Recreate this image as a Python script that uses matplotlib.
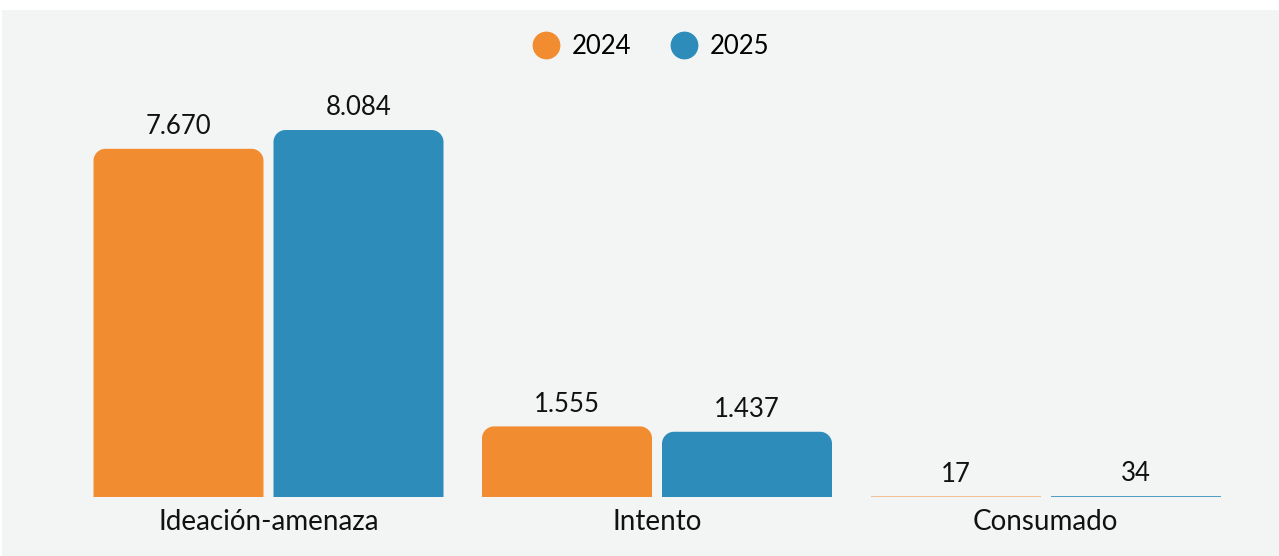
import matplotlib
matplotlib.use("Agg")
import matplotlib.pyplot as plt
from matplotlib.patches import Rectangle, PathPatch
from matplotlib.path import Path
from matplotlib.lines import Line2D
import numpy as np

# data
categories = ["Ideación-amenaza", "Intento", "Consumado"]
years = ["2024", "2025"]
values_2024 = [7670, 1555, 17]
values_2025 = [8084, 1437, 34]
value_labels_2024 = ["7.670", "1.555", "17"]
value_labels_2025 = ["8.084", "1.437", "34"]

ORANGE = "#F28C30"
BLUE = "#2E8CBA"
BG = "#F3F5F5"
FONT = ["Lato", "DejaVu Sans"]

W, H = 1279, 556
fig = plt.figure(figsize=(W / 100, H / 100), dpi=100)
fig.patch.set_facecolor("white")
fig.patches.append(Rectangle((2 / W, 0), 1 - 2 / W, 1 - 10 / H, transform=fig.transFigure,
                             facecolor=BG, edgecolor="none", zorder=-10))

ax = fig.add_axes([74.25 / W, 59 / H, 1165.5 / W, 407 / H])
ax.set_facecolor("none")
ax.set_xlim(-0.5, 2.5)
ax.set_ylim(0, 8965)
for s in ax.spines.values():
    s.set_visible(False)
ax.set_yticks([])
ax.tick_params(axis="x", length=0, pad=9)
x = np.arange(len(categories))
ax.set_xticks(x)
ax.set_xticklabels(categories, fontsize=20, family=FONT, color="#111111")

off = 90 / 388.5
bw = 170 / 388.5
b1 = ax.bar(x - off, values_2024, bw, color=ORANGE)
b2 = ax.bar(x + off, values_2025, bw, color=BLUE)

fig.canvas.draw()


def round_top(bar, color, r=12):
    # replace bar by a path with rounded top corners (pixel space)
    bb = bar.get_window_extent()
    x0, y0, x1, y1 = bb.x0, bb.y0, bb.x1, bb.y1
    r = min(r, (y1 - y0), (x1 - x0) / 2)
    k = 0.5523
    verts = [(x0, y0), (x0, y1 - r),
             (x0, y1 - r + k * r), (x0 + r - k * r, y1), (x0 + r, y1),
             (x1 - r, y1),
             (x1 - r + k * r, y1), (x1, y1 - r + k * r), (x1, y1 - r),
             (x1, y0), (x0, y0)]
    codes = [Path.MOVETO, Path.LINETO,
             Path.CURVE4, Path.CURVE4, Path.CURVE4,
             Path.LINETO,
             Path.CURVE4, Path.CURVE4, Path.CURVE4,
             Path.LINETO, Path.CLOSEPOLY]
    p = PathPatch(Path(verts, codes), facecolor=color, edgecolor="none", transform=None)
    fig.patches.append(p)
    bar.set_visible(False)


for bars, color, labels in [(b1, ORANGE, value_labels_2024), (b2, BLUE, value_labels_2025)]:
    for bar, lab in zip(bars, labels):
        if bar.get_height() > 300:
            round_top(bar, color)
        else:
            bar.set_visible(False)
            ax.plot([bar.get_x(), bar.get_x() + bar.get_width()], [0, 0], color=color,
                    lw=1.2, alpha=0.6 if color == ORANGE else 1, solid_capstyle="butt")
        ax.annotate(lab, (bar.get_x() + bar.get_width() / 2, bar.get_height()),
                    xytext=(0, 7), textcoords="offset points", ha="center", va="bottom",
                    fontsize=18.5, family=FONT, color="#111111")

handles = [Line2D([], [], marker="o", ls="none", markersize=19, color=c) for c in (ORANGE, BLUE)]
fig.legend(handles, years, loc="center", bbox_to_anchor=(651 / W, 1 - 46 / H), ncol=2,
           frameon=False, prop={"family": FONT, "size": 18.5}, handletextpad=0.45,
           columnspacing=1.5, handlelength=1.1)

fig.savefig("out.png", dpi=100, facecolor=fig.get_facecolor())
